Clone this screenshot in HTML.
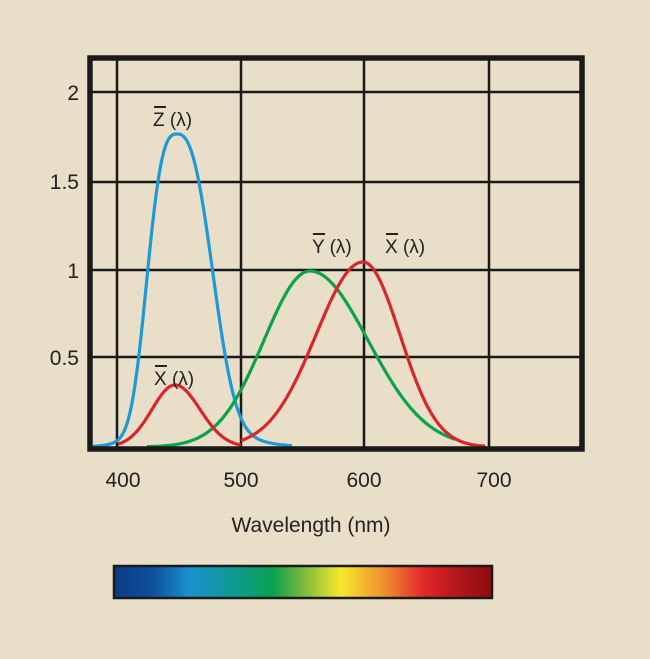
<!DOCTYPE html>
<html><head><meta charset="utf-8"><style>
body{margin:0;background:#e9dec8;}
#c{position:relative;width:650px;height:659px;background:#e9dec8;font-family:"Liberation Sans",sans-serif;color:#222;overflow:hidden}
</style></head><body><div id="c">
<svg width="650" height="659" style="position:absolute;left:0;top:0" font-family="Liberation Sans, sans-serif">
<defs><linearGradient id="g" x1="0" x2="1">
<stop offset="0" stop-color="#0c3a86"/><stop offset="0.1" stop-color="#0f4f9a"/>
<stop offset="0.2" stop-color="#1890cf"/><stop offset="0.3" stop-color="#0f9a9a"/>
<stop offset="0.42" stop-color="#0aa150"/><stop offset="0.5" stop-color="#7ab83c"/>
<stop offset="0.6" stop-color="#f6e92c"/><stop offset="0.72" stop-color="#ee8a30"/>
<stop offset="0.82" stop-color="#e2262a"/><stop offset="0.93" stop-color="#a81419"/>
<stop offset="1" stop-color="#8e0b10"/></linearGradient></defs>
<g stroke="#1a1a1a" stroke-width="2.5">
<line x1="117" y1="58" x2="117" y2="449"/><line x1="241" y1="58" x2="241" y2="449"/>
<line x1="364" y1="58" x2="364" y2="449"/><line x1="489" y1="58" x2="489" y2="449"/>
<line x1="90" y1="92" x2="582" y2="92"/><line x1="90" y1="182" x2="582" y2="182"/>
<line x1="90" y1="270" x2="582" y2="270"/><line x1="90" y1="357" x2="582" y2="357"/>
</g>
<g id="curves" fill="none" stroke-width="3.2"></g>
<rect x="90" y="58" width="492" height="391" fill="none" stroke="#1a1a1a" stroke-width="5.5"/>
<g font-size="21" fill="#222" text-anchor="end">
<text x="79" y="100">2</text><text x="79" y="189">1.5</text><text x="79" y="278">1</text><text x="79" y="365">0.5</text></g>
<g font-size="21" fill="#222" text-anchor="middle">
<text x="123" y="487">400</text><text x="241" y="487">500</text><text x="364" y="487">600</text><text x="494" y="487">700</text>
<text x="311" y="532">Wavelength (nm)</text></g>
<g font-size="19" fill="#222">
<text x="153" y="126">Z (λ)</text><line x1="154" y1="107" x2="166" y2="107" stroke="#222" stroke-width="2"/>
<text x="312" y="253">Y (λ)</text><line x1="313" y1="234" x2="325" y2="234" stroke="#222" stroke-width="2"/>
<text x="385" y="253">X (λ)</text><line x1="386" y1="234" x2="398" y2="234" stroke="#222" stroke-width="2"/>
<text x="154" y="385">X (λ)</text><line x1="155" y1="366" x2="167" y2="366" stroke="#222" stroke-width="2"/>
</g>
<rect x="114" y="566" width="378" height="32" fill="url(#g)" stroke="#1a1a1a" stroke-width="2.5"/>
</svg>
<script>
function g(x,c,a,sl,sr){var s=x<c?sl:sr;return a*Math.exp(-(x-c)*(x-c)/(2*s*s));}
function sg(x,c,a,sl,sr,pl,pr){var s=x<c?sl:sr,p=x<c?pl:pr;return a*Math.exp(-Math.pow(Math.abs(x-c)/s,p));}
function path(x0,x1,f){var d="";for(var x=x0;x<=x1;x+=1){var y=447-f(x);d+=(d?"L":"M")+x+","+y.toFixed(1);}return d;}
var defs=[
["#1b9ad6",93,292,function(x){return sg(x,177,280,35,43,3,2.6)+g(x,177,33,30,45);}],
["#0aa24a",147,455,function(x){return g(x,310,176,46,58);}],
["#d9262a",118,241,function(x){return g(x,175,62,23,25);}],
["#d9262a",241,485,function(x){return g(x,363,185,47,37);}]
];
var G=document.getElementById("curves"),ns="http://www.w3.org/2000/svg";
defs.forEach(function(d){var p=document.createElementNS(ns,"path");p.setAttribute("d",path(d[1],d[2],d[3]));p.setAttribute("stroke",d[0]);G.appendChild(p);});
</script>
</div></body></html>
